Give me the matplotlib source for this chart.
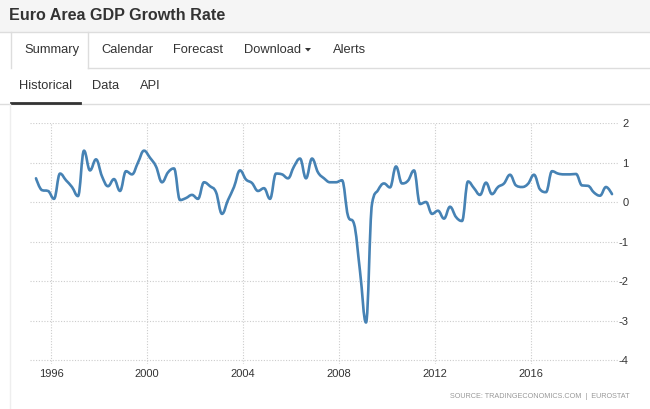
import matplotlib
matplotlib.use('Agg')
import matplotlib.pyplot as plt
from matplotlib.lines import Line2D
from matplotlib.patches import Rectangle, Polygon, PathPatch
from matplotlib.path import Path

plt.rcParams['font.family'] = ['Liberation Sans', 'DejaVu Sans']

# quarterly GDP growth (q/q, %) from 1995 Q2 to 2019 Q2
start_year = 1995
start_quarter = 2
growth = [
    0.60, 0.30, 0.28, 0.08, 0.72, 0.55, 0.38, 0.15,   # 1995Q2 - 1997Q1
    1.30, 0.80, 1.08, 0.65, 0.40, 0.58, 0.28, 0.78,   # 1997Q2 - 1999Q1
    0.70, 1.00, 1.30, 1.12, 0.90, 0.50, 0.75, 0.85,   # 1999Q2 - 2001Q1
    0.05, 0.10, 0.18, 0.08, 0.50, 0.40, 0.25, -0.30,  # 2001Q2 - 2003Q1
    0.05, 0.38, 0.80, 0.57, 0.48, 0.28, 0.35, 0.08,   # 2003Q2 - 2005Q1
    0.72, 0.70, 0.60, 0.90, 1.10, 0.60, 1.10, 0.75,   # 2005Q2 - 2007Q1
    0.60, 0.50, 0.50, 0.55, -0.35, -0.55, -1.75, -3.05,  # 2007Q2 - 2009Q1
    -0.05, 0.30, 0.47, 0.37, 0.90, 0.47, 0.54, 0.80,  # 2009Q2 - 2011Q1
    -0.05, 0.00, -0.30, -0.22, -0.42, -0.12, -0.38, -0.48,  # 2011Q2 - 2013Q1
    0.52, 0.35, 0.18, 0.49, 0.20, 0.38, 0.47, 0.69,   # 2013Q2 - 2015Q1
    0.42, 0.38, 0.46, 0.69, 0.32, 0.25, 0.78, 0.72,   # 2015Q2 - 2017Q1
    0.70, 0.70, 0.71, 0.42, 0.41, 0.24, 0.16, 0.38,   # 2017Q2 - 2019Q1
    0.20,                                             # 2019Q2
]
year_ticks = [1996, 2000, 2004, 2008, 2012, 2016]
value_ticks = [2, 1, 0, -1, -2, -3, -4]

tabs = ['Summary', 'Calendar', 'Forecast', 'Download', 'Alerts']
tab_x = [24, 101, 173, 244, 333]
subtabs = ['Historical', 'Data', 'API']
subtab_x = [19, 92, 140]

# x position: middle of each quarter in decimal years
dates = [start_year + (start_quarter - 1) * 0.25 + 0.125 + 0.25 * i for i in range(len(growth))]


def spline_path(xs, ys, smoothing=1.5):
    # smooth curve through every point (same idea as a chart "spline" series)
    denom = smoothing + 1
    n = len(xs)
    ctrl = []
    for i in range(n):
        x, y = xs[i], ys[i]
        if i == 0 or i == n - 1:
            ctrl.append((x, y, x, y))
            continue
        lx = (smoothing * x + xs[i - 1]) / denom
        ly = (smoothing * y + ys[i - 1]) / denom
        rx = (smoothing * x + xs[i + 1]) / denom
        ry = (smoothing * y + ys[i + 1]) / denom
        corr = (ry - ly) * (rx - x) / (rx - lx) + y - ry
        ly += corr
        ry += corr
        # keep the curve from overshooting its neighbours
        if ly > max(ys[i - 1], y):
            ly = max(ys[i - 1], y)
            ry = 2 * y - ly
        elif ly < min(ys[i - 1], y):
            ly = min(ys[i - 1], y)
            ry = 2 * y - ly
        if ry > max(ys[i + 1], y):
            ry = max(ys[i + 1], y)
            ly = 2 * y - ry
        elif ry < min(ys[i + 1], y):
            ry = min(ys[i + 1], y)
            ly = 2 * y - ry
        ctrl.append((lx, ly, rx, ry))
    verts = [(xs[0], ys[0])]
    codes = [Path.MOVETO]
    for i in range(1, n):
        verts += [(ctrl[i - 1][2], ctrl[i - 1][3]), (ctrl[i][0], ctrl[i][1]), (xs[i], ys[i])]
        codes += [Path.CURVE4] * 3
    return Path(verts, codes)


W, H = 650, 409
fig = plt.figure(figsize=(W / 100, H / 100), dpi=100)


def fx(x):
    return x / W


def fy(y):
    return 1 - y / H


def hline(x0, x1, y, color='#dddddd', lw=1.0):
    fig.add_artist(Line2D([fx(x0), fx(x1)], [fy(y), fy(y)], color=color, lw=lw))


def vline(x, y0, y1, color='#dddddd', lw=1.0):
    fig.add_artist(Line2D([fx(x), fx(x)], [fy(y0), fy(y1)], color=color, lw=lw))


# ---- page header ----
fig.add_artist(Rectangle((0, fy(32)), 1, 32 / H, color='#f5f5f5', lw=0))
hline(0, W, 32)
fig.text(fx(9), fy(16), 'Euro Area GDP Growth Rate', fontsize=11.6, fontweight='bold',
         color='#333333', va='center', ha='left')

# ---- tabs ----
vline(11, 32, 68)
vline(88, 32, 68)
hline(88, W, 68)
for name, x in zip(tabs, tab_x):
    fig.text(fx(x), fy(50), name, fontsize=9.3, color='#333333', va='center', ha='left')
fig.add_artist(Polygon([[fx(305), fy(48)], [fx(311), fy(48)], [fx(308), fy(51.5)]],
                       closed=True, color='#333333', lw=0))

for name, x in zip(subtabs, subtab_x):
    fig.text(fx(x), fy(86), name, fontsize=9.3, color='#333333', va='center', ha='left')
hline(0, W, 104)
hline(11, 80, 103.5, color='#333333', lw=2)
vline(10, 104, H, color='#eeeeee')

# ---- chart ----
ax = fig.add_axes([fx(30), fy(364), (618 - 30) / W, (364 - 123) / H])
ax.add_patch(PathPatch(spline_path(dates, growth), facecolor='none', edgecolor='#4682b4',
                       lw=1.9, joinstyle='round', capstyle='round'))

ax.set_xlim(1995.125, 2019.625)
ax.set_ylim(-4.1, 2)
ax.set_xticks(year_ticks)
ax.set_xticklabels([str(y) for y in year_ticks])
ax.set_yticks(value_ticks)
ax.set_yticklabels([str(v) for v in value_ticks])
ax.yaxis.tick_right()
ax.tick_params(axis='both', length=0, labelsize=8, colors='#333333')
ax.tick_params(axis='y', pad=7.5)
ax.tick_params(axis='x', pad=3.5)
for lbl in ax.get_yticklabels():
    lbl.set_horizontalalignment('right')

ax.grid(True, color='#cccccc', linestyle=(0, (1, 1.5)), lw=0.8)
ax.set_axisbelow(True)
for spine in ax.spines.values():
    spine.set_visible(False)
ax.patch.set_alpha(0)

fig.text(fx(630), fy(397), 'SOURCE: TRADINGECONOMICS.COM  |  EUROSTAT', fontsize=5.2,
         color='#999999', ha='right', va='center')

fig.savefig('out.png', dpi=100)
